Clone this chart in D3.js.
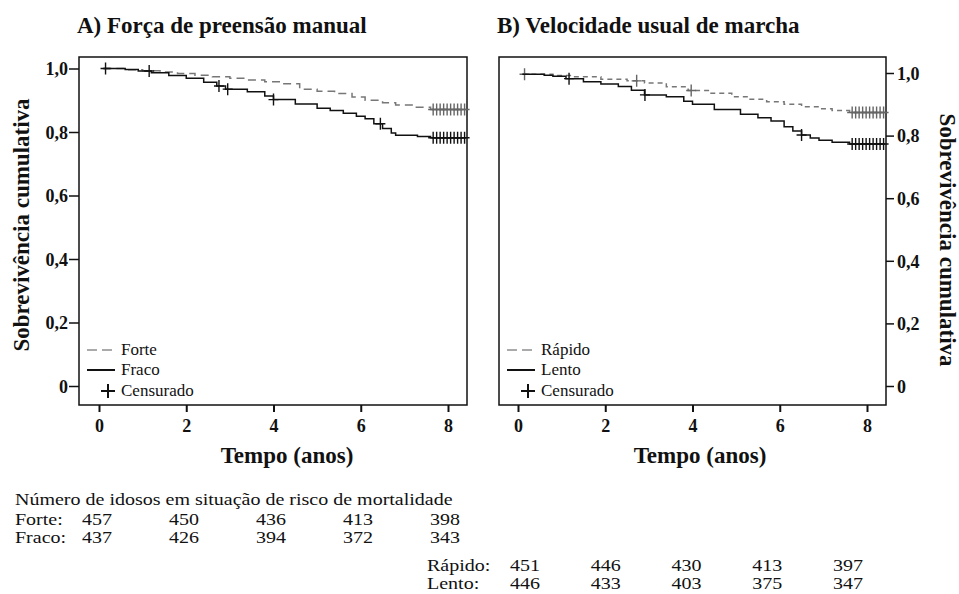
<!DOCTYPE html>
<html>
<head>
<meta charset="utf-8">
<script src="https://cdn.jsdelivr.net/npm/d3@7"></script>
<style>
  body { margin: 0; background: #fff; }
  svg text { font-family: "Liberation Serif", "Times New Roman", serif; fill: #111; }
  .panel-title, .axis-title { font-weight: bold; font-size: 23px; }
  .tick text { font-weight: bold; font-size: 18px; }
  .legend-text { font-size: 17px; }
  .risk-text { font-size: 16px; }
</style>
</head>
<body>
<div id="chart"></div>
<script>
// axis ticks
const timeTicks = [0, 2, 4, 6, 8];
const survTicks = [0, 0.2, 0.4, 0.6, 0.8, 1.0];

// A) Força de preensão manual -- [tempo, sobrevivência] steps
const forteSteps = [
  [0.1, 1.0], [0.6, 0.996], [1.0, 0.993], [1.4, 0.989], [1.8, 0.984], [2.2, 0.979],
  [2.6, 0.974], [3.0, 0.969], [3.4, 0.964], [3.8, 0.958], [4.2, 0.952], [4.6, 0.935],
  [5.0, 0.928], [5.4, 0.921], [5.8, 0.91], [6.1, 0.9], [6.5, 0.892], [6.8, 0.885],
  [7.2, 0.878], [7.6, 0.871], [8.4, 0.871]
];
const fracoSteps = [
  [0.1, 1.0], [0.6, 0.997], [0.9, 0.992], [1.2, 0.987], [1.6, 0.978], [2.0, 0.969],
  [2.4, 0.957], [2.7, 0.945], [2.9, 0.935], [3.4, 0.927], [3.8, 0.913], [4.0, 0.902],
  [4.5, 0.888], [5.0, 0.875], [5.3, 0.868], [5.6, 0.859], [5.9, 0.85], [6.1, 0.842],
  [6.3, 0.826], [6.5, 0.811], [6.7, 0.797], [6.8, 0.79], [7.3, 0.786], [7.6, 0.782],
  [8.4, 0.782]
];
const endCensored = [7.66, 7.74, 7.82, 7.9, 7.98, 8.06, 8.14, 8.22, 8.3, 8.38];
const forteCensored = [].concat(endCensored);
const fracoCensored = [0.15, 1.15, 2.75, 2.95, 4.0, 6.45].concat(endCensored);

// B) Velocidade usual de marcha
const rapidoSteps = [
  [0.1, 0.996], [0.8, 0.992], [1.2, 0.988], [1.9, 0.98], [2.5, 0.975], [2.9, 0.968],
  [3.4, 0.956], [3.9, 0.944], [4.4, 0.935], [4.9, 0.924], [5.3, 0.916], [5.7, 0.908],
  [6.1, 0.9], [6.5, 0.892], [6.9, 0.886], [7.2, 0.88], [7.6, 0.874], [8.4, 0.874]
];
const lentoSteps = [
  [0.1, 0.996], [0.6, 0.993], [0.8, 0.99], [1.1, 0.982], [1.5, 0.972], [1.9, 0.965],
  [2.3, 0.957], [2.6, 0.945], [2.9, 0.93], [3.4, 0.924], [3.8, 0.91], [4.0, 0.9],
  [4.5, 0.883], [5.1, 0.868], [5.5, 0.857], [5.8, 0.847], [6.1, 0.828], [6.3, 0.815],
  [6.5, 0.802], [6.7, 0.792], [6.9, 0.785], [7.2, 0.779], [7.6, 0.773], [8.4, 0.773]
];
const rapidoCensored = [0.15, 2.72, 3.97].concat(endCensored);
const lentoCensored = [1.17, 2.91, 6.5].concat(endCensored);

// risk table
const riskTitle = "Número de idosos em situação de risco de mortalidade";
const riskForte = [457, 450, 436, 413, 398];
const riskFraco = [437, 426, 394, 372, 343];
const riskRapido = [451, 446, 430, 413, 397];
const riskLento = [446, 433, 403, 375, 347];

const width = 959, height = 594;

const svg = d3.select("#chart")
  .append("svg")
  .attr("width", width)
  .attr("height", height);

// survival value of a step curve at time t
function survAt(steps, t) {
  let s = steps[0][1];
  steps.forEach(d => { if (d[0] <= t) s = d[1]; });
  return s;
}

const fmtSurv = d => (d === 0 ? "0" : d3.format(".1f")(d).replace(".", ","));

function drawPanel(p) {
  const g = svg.append("g");

  const x = d3.scaleLinear().domain([0, 8]).range([p.x0, p.x8]);
  const y = d3.scaleLinear().domain([0, 1]).range([p.y0, p.y1]);

  // title
  g.append("text")
    .attr("class", "panel-title")
    .attr("x", p.box.left - 2)
    .attr("y", 33)
    .text(p.title);

  // frame
  g.append("rect")
    .attr("x", p.box.left)
    .attr("y", p.box.top)
    .attr("width", p.box.right - p.box.left)
    .attr("height", p.box.bottom - p.box.top)
    .attr("fill", "none")
    .attr("stroke", "#111")
    .attr("stroke-width", 1.5);

  // x axis
  const xAxis = g.append("g")
    .attr("transform", `translate(0, ${p.box.bottom})`)
    .call(d3.axisBottom(x).tickValues(timeTicks).tickSize(7).tickPadding(7));
  xAxis.select(".domain").remove();
  xAxis.selectAll(".tick line").attr("stroke", "#111").attr("stroke-width", 2);

  g.append("text")
    .attr("class", "axis-title")
    .attr("x", p.xTitleX)
    .attr("y", 463)
    .style("text-anchor", "middle")
    .text("Tempo (anos)");

  // y axis, left or right
  let yAxis;
  if (p.yRight) {
    yAxis = g.append("g")
      .attr("transform", `translate(${p.box.right}, 0)`)
      .call(d3.axisRight(y).tickValues(survTicks).tickFormat(fmtSurv).tickSize(8).tickPadding(3));
    g.append("text")
      .attr("class", "axis-title")
      .attr("transform", `translate(940, 240) rotate(90)`)
      .style("text-anchor", "middle")
      .text("Sobrevivência cumulativa");
  } else {
    yAxis = g.append("g")
      .attr("transform", `translate(${p.box.left}, 0)`)
      .call(d3.axisLeft(y).tickValues(survTicks).tickFormat(fmtSurv).tickSize(10).tickPadding(1));
    g.append("text")
      .attr("class", "axis-title")
      .attr("transform", `translate(29, 225) rotate(-90)`)
      .style("text-anchor", "middle")
      .text("Sobrevivência cumulativa");
  }
  yAxis.select(".domain").remove();
  yAxis.selectAll(".tick line").attr("stroke", "#111").attr("stroke-width", 1.5);
  yAxis.selectAll(".tick text").attr("dy", "0.35em");

  // curves
  const line = d3.line()
    .x(d => x(d[0]))
    .y(d => y(d[1]))
    .curve(d3.curveStepAfter);

  p.series.forEach(s => {
    g.append("path")
      .datum(s.steps)
      .attr("d", line)
      .attr("fill", "none")
      .attr("stroke", s.color)
      .attr("stroke-width", 1.5)
      .attr("stroke-dasharray", s.dash);

    // censored marks
    g.selectAll(null)
      .data(s.censored)
      .enter()
      .append("path")
      .attr("d", t => {
        const cx = x(t), cy = y(survAt(s.steps, t));
        return `M${cx - 5},${cy}H${cx + 5}M${cx},${cy - 6}V${cy + 6}`;
      })
      .attr("stroke", s.markColor)
      .attr("stroke-width", 1.4)
      .attr("fill", "none");
  });

  // legend
  const lx = p.box.left + 8;
  const legend = g.append("g");
  p.series.forEach((s, i) => {
    const ly = 350 + i * 20;
    legend.append("line")
      .attr("x1", lx).attr("x2", lx + 28)
      .attr("y1", ly).attr("y2", ly)
      .attr("stroke", s.legendColor)
      .attr("stroke-width", 2)
      .attr("stroke-dasharray", s.legendDash);
    legend.append("text")
      .attr("class", "legend-text")
      .attr("x", lx + 34)
      .attr("y", ly + 5)
      .text(s.name);
  });
  const cy = 391, cx = lx + 21;
  legend.append("path")
    .attr("d", `M${cx - 7},${cy}H${cx + 7}M${cx},${cy - 7}V${cy + 7}`)
    .attr("stroke", "#111")
    .attr("stroke-width", 2);
  legend.append("text")
    .attr("class", "legend-text")
    .attr("x", lx + 34)
    .attr("y", cy + 5)
    .text("Censurado");
}

drawPanel({
  title: "A) Força de preensão manual",
  box: { left: 79, right: 467, top: 57, bottom: 405 },
  x0: 99, x8: 448, y0: 386, y1: 68.5,
  xTitleX: 287,
  yRight: false,
  series: [
    { name: "Forte", steps: forteSteps, censored: forteCensored, color: "#777",
      dash: "8,5", markColor: "#666", legendColor: "#aaa", legendDash: "10,5" },
    { name: "Fraco", steps: fracoSteps, censored: fracoCensored, color: "#111",
      dash: null, markColor: "#111", legendColor: "#111", legendDash: null }
  ]
});

drawPanel({
  title: "B) Velocidade usual de marcha",
  box: { left: 499, right: 886, top: 57, bottom: 405 },
  x0: 518, x8: 867, y0: 386, y1: 73,
  xTitleX: 700,
  yRight: true,
  series: [
    { name: "Rápido", steps: rapidoSteps, censored: rapidoCensored, color: "#777",
      dash: "5,4", markColor: "#666", legendColor: "#aaa", legendDash: "10,5" },
    { name: "Lento", steps: lentoSteps, censored: lentoCensored, color: "#111",
      dash: null, markColor: "#111", legendColor: "#111", legendDash: null }
  ]
});

// risk table -- the source type is wide, so stretch it a little
const risk = svg.append("g").attr("class", "risk-text");
const stretch = (x, y) => `translate(${x}, ${y}) scale(1.25, 1)`;

risk.append("text").attr("transform", stretch(15, 505)).text(riskTitle);

function riskRows(rows, labelX, colRange, y0) {
  const col = d3.scaleLinear().domain([0, 4]).range(colRange);
  rows.forEach((r, i) => {
    const y = y0 + i * 18;
    risk.append("text").attr("transform", stretch(labelX, y)).text(r.label);
    risk.selectAll(null)
      .data(r.values)
      .enter()
      .append("text")
      .attr("transform", (d, j) => stretch(col(j), y))
      .text(d => d);
  });
}

riskRows([{ label: "Forte:", values: riskForte }, { label: "Fraco:", values: riskFraco }],
  15, [82, 430], 525);
riskRows([{ label: "Rápido:", values: riskRapido }, { label: "Lento:", values: riskLento }],
  427, [510, 833], 571);
</script>
</body>
</html>
